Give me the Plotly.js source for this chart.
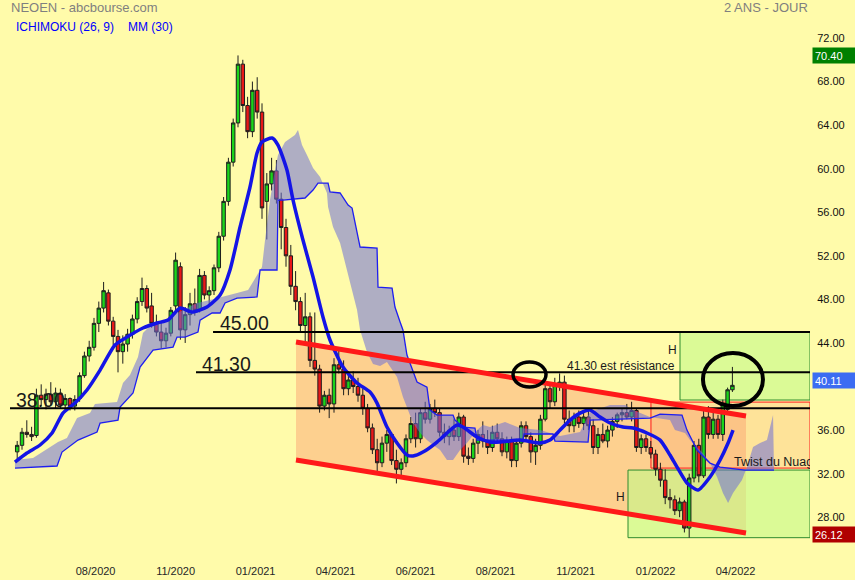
<!DOCTYPE html>
<html>
<head>
<meta charset="utf-8">
<script src="https://cdn.plot.ly/plotly-3.0.1.min.js"></script>
<style>
html,body{margin:0;padding:0;background:#FFFBAA;}
#chart{width:855px;height:580px;}
</style>
</head>
<body>
<div id="chart"></div>
<script>
// ---- tick labels (trading-day index of each tick) ----
const tickDays = [51, 101, 151, 201, 251, 301, 351, 401, 451];
const tickLabels = ['08/2020','11/2020','01/2021','04/2021','06/2021','08/2021','11/2021','01/2022','04/2022'];
const priceTicks = [28,32,36,44,48,52,56,60,64,68,72];

// ---- candles (one candle = 3 trading days) ----
const candleOpen = [
34.0,34.6,35.8,35.6,35.5,39.2,38.8,39.3,38.6,39.4,
38.3,38.9,38.2,38.9,41.0,42.8,43.6,45.8,47.2,48.6,
46.0,44.6,43.2,43.9,44.8,46.2,47.8,49.0,47.4,45.8,
45.0,44.2,44.9,47.4,51.0,45.2,46.6,47.6,47.0,50.2,
48.4,48.8,50.9,53.8,57.0,60.6,64.2,69.6,65.8,63.4,
67.2,65.2,57.0,58.6,59.8,57.2,54.6,52.0,49.2,47.8,
45.6,46.4,42.4,41.6,38.2,39.2,38.4,42.0,41.6,39.8,
40.6,40.0,39.2,38.0,36.2,34.2,33.0,34.8,35.6,33.2,
32.4,33.0,35.2,36.6,35.2,37.6,37.0,38.0,37.6,35.8,
35.4,36.0,35.4,37.2,33.6,33.4,34.8,35.6,35.0,34.4,
35.8,35.2,34.0,35.0,33.2,34.8,36.4,35.4,34.0,34.6,
37.0,39.8,38.6,40.2,40.4,37.0,36.4,37.2,36.6,37.2,
36.4,34.4,35.6,35.0,36.0,36.8,37.4,37.6,37.2,37.8,
34.4,35.2,34.4,33.8,32.4,31.4,29.8,29.6,28.6,29.4,
27.0,31.6,34.6,31.8,37.2,35.6,37.0,35.6,37.9,39.7];
const candleHigh = [
35.0,36.2,36.9,36.3,39.8,40.2,39.8,40.4,39.9,39.8,
39.3,39.0,39.2,41.3,43.2,44.2,46.3,47.8,49.6,48.9,
46.4,45.2,44.7,45.3,46.6,48.2,50.0,49.3,48.6,46.6,
46.0,45.4,47.3,52.3,51.4,47.3,48.6,49.0,50.8,50.6,
49.2,51.2,54.2,57.4,61.0,64.6,70.4,70.0,66.6,68.0,
68.4,66.0,59.6,61.0,60.8,57.8,55.4,53.0,50.6,48.2,
48.6,46.8,46.8,42.0,39.6,39.8,42.6,43.4,42.4,41.4,
41.4,40.8,39.8,38.4,36.6,35.2,35.4,36.0,35.8,34.2,
33.4,35.6,37.2,37.6,38.0,38.6,38.4,38.8,38.0,36.6,
36.4,37.0,37.6,37.4,34.4,35.2,36.0,36.8,36.0,36.4,
36.6,35.8,35.4,35.4,35.2,36.8,36.8,35.8,35.2,37.4,
40.2,40.4,40.8,41.2,41.0,37.8,37.6,37.8,37.6,37.8,
37.0,36.2,36.6,36.4,37.2,37.6,38.0,38.4,38.6,38.0,
35.6,35.6,35.0,34.2,33.0,32.4,30.6,30.0,29.8,29.6,
32.0,35.0,35.2,37.8,38.2,37.6,37.4,38.8,39.9,41.8];
const candleLow = [
33.2,34.2,35.3,35.0,35.3,38.2,37.9,38.3,38.0,38.0,
37.7,37.8,37.8,38.6,40.8,42.3,43.3,45.0,46.8,45.6,
43.8,41.3,42.1,43.2,44.4,45.8,47.4,46.8,45.4,44.6,
43.5,43.6,44.6,47.0,44.3,44.0,45.6,46.5,46.8,48.0,
47.6,48.4,50.5,53.4,56.6,60.2,63.8,65.2,62.8,62.9,
64.6,55.4,53.5,58.0,56.8,52.6,51.0,48.4,47.0,45.0,
44.0,41.8,41.0,37.6,37.8,37.1,37.6,41.2,39.2,39.2,
39.4,38.6,37.4,35.8,33.8,31.9,32.6,34.0,32.8,31.1,
31.6,32.6,34.8,34.4,34.8,36.6,36.6,37.2,35.4,34.8,
34.6,35.0,35.0,33.0,32.8,33.0,33.8,34.4,33.8,34.0,
34.8,33.6,33.4,32.6,32.6,34.4,35.0,33.0,32.8,34.2,
36.8,38.0,38.2,39.6,36.6,35.8,35.8,36.2,36.0,36.0,
33.8,33.8,34.8,34.4,35.4,36.2,36.8,37.0,36.8,34.0,
33.8,34.0,33.4,31.8,30.8,29.2,28.8,28.2,28.0,26.6,
26.12,31.2,31.2,31.6,35.2,35.2,35.2,35.0,37.6,39.5];
const candleClose = [
34.6,35.8,35.6,35.4,39.2,38.8,39.3,38.6,39.4,38.3,
38.9,38.2,38.8,41.0,42.8,43.6,45.8,47.2,48.8,46.0,
44.6,43.2,43.9,44.8,46.2,47.8,49.0,47.2,45.8,45.0,
44.2,44.9,47.0,51.6,45.2,46.6,47.6,47.0,50.2,48.4,
48.8,50.9,53.8,57.0,60.6,64.2,69.6,65.8,63.4,67.2,
65.2,56.4,58.6,59.8,57.2,54.6,52.0,49.2,47.8,45.6,
46.4,42.4,41.6,38.2,39.2,38.4,42.0,41.6,39.8,40.6,
40.0,39.2,38.0,36.2,34.2,33.0,34.8,35.6,33.2,32.4,
33.0,35.2,36.6,35.2,37.6,37.0,38.0,37.6,35.8,35.4,
36.0,35.4,37.2,33.6,33.4,34.8,35.6,35.0,34.4,35.8,
35.2,34.0,35.0,33.2,34.8,36.4,35.4,34.0,34.6,37.0,
39.8,38.6,40.2,40.4,37.0,36.4,37.2,36.6,37.2,36.4,
34.4,35.6,35.0,36.0,36.8,37.4,37.6,37.2,37.8,34.4,
35.2,34.4,33.8,32.4,31.4,29.8,29.6,28.6,29.4,27.0,
31.6,34.6,31.8,37.2,35.6,37.0,35.6,38.4,39.7,40.11];
const candleDay = candleOpen.map((_, k) => 2 + 3 * k);

// ---- MM(30) ----
const maDay = [0.6,8.1,16.3,23.8,30.6,38.1,45.6,53.8,63.1,70.6,80.6,89.4,96.3,103.8,111.3,120.6,128.8,135,141.3,147.5,151.9,155,161.3,165,170.6,174.4,180.6,186.9,193.1,197.5,205.6,214.4,222.5,226.9,233.1,239.4,245.6,249.4,255.6,264.4,270.6,276.9,280.6,289.4,297.5,303.8,316.3,328.8,335,341.3,347.5,353.8,360,366.3,372.5,380.6,386.9,395.6,403.8,410,414.4,420.6,427.5,435,441.3,446.3,449.4];
const maValue = [33.06,33.89,34.63,35.73,37.56,38.48,39.68,41.51,43.81,44.54,45.37,45.83,46.10,47.21,46.84,47.30,48.40,50.70,54.65,58.32,61.44,62.45,62.82,62.17,59.88,57.12,53.45,50.05,46.38,44.27,41.79,40.32,39.49,38.48,36.28,34.81,33.71,33.62,33.98,34.90,35.73,36.46,36.28,35.36,34.90,34.90,35.08,34.81,35.08,36.00,36.92,37.56,37.84,37.20,36.65,36.28,36.19,35.73,35.08,33.71,32.60,31.14,30.49,31.69,33.25,34.81,36.00];

// ---- Ichimoku cloud: Senkou span A / span B (already shifted 26 days) ----
const spanADay = [0.6,11.9,27.5,33.1,39.4,47.5,50.6,64.4,68.1,72.5,77.5,80.6,86.9,94.4,101.9,114.4,122.5,130.6,139.4,146.3,151.9,155,156.9,160,163.1,165,169.4,175.6,177.5,180,183.1,186.9,191.3,195.6,196.3,199.4,203.8,208.1,210,214.4,216.3,220.6,224.4,228.8,233.1,239.4,243.1,246.3,249.4,253.8,258.1,261.9,266.3,270.6,274.4,278.8,283.1,289.4,293.1,297.5,306.9,316.3,328.8,341.3,353.8,360,372.5,381.9,386.9,397.5,410,413.1,419.4,422.5,430.6,435,439.4,443.1,446.3,449.4,455,458.1,461.9,466.3,470.6,474.4];
const spanAValue = [33.25,33.43,34.90,35.27,37.10,37.56,38.39,38.57,40.32,41.05,42.71,44.91,45.83,46.10,46.75,47.67,47.94,48.22,48.58,48.86,50.24,50.97,53.45,57.12,59.88,61.26,62.45,63.09,63.55,62.17,61.26,60.06,59.24,57.77,56.48,54.65,53.18,50.70,49.78,47.02,45.19,43.17,42.06,41.88,42.25,40.87,39.03,37.84,36.65,35.73,35.08,34.63,34.17,33.25,33.25,34.17,34.81,36.00,36.46,36.28,36.74,36.19,36.00,35.45,35.82,37.66,38.30,38.30,37.84,37.20,36.92,36.00,35.73,35.08,33.89,32.97,31.69,30.22,29.30,30.22,31.41,32.60,34.44,34.81,35.08,37.38];
const spanBDay = [0.6,26.9,30,40,51.9,53.8,65,66.3,74.4,78.8,86.9,99.4,101.9,106.9,115,116.3,123.8,128.8,131.9,139.4,151.9,153.8,164.4,165,168.1,181.9,186.9,190,196.3,197.5,203.8,208.8,211.3,215,216.3,226.9,227.5,236.3,238.1,241.3,243.1,245.6,248.8,251.9,258.1,260,264.4,274.4,275.6,280.6,288.1,289.4,318.1,318.8,336.9,338.1,358.8,360,397.5,403.8,417.5,420.6,426.9,435,441.3,456.9,475];
const spanBValue = [32.51,32.70,33.98,35.08,35.82,36.65,36.92,38.11,39.40,41.79,43.35,43.62,44.54,44.54,45.00,46.10,46.75,46.75,47.67,48.12,48.22,50.70,50.70,57.12,57.12,57.31,58.04,58.68,58.68,57.86,57.77,56.66,56.39,53.91,52.81,52.72,49.13,49.04,47.30,45.92,45.19,42.89,41.70,40.41,39.95,37.84,37.38,37.38,36.92,36.28,36.19,35.08,35.08,35.64,35.64,34.99,34.90,36.92,37.10,37.47,37.38,36.00,34.17,32.97,32.60,32.33,32.33];

// ---- drawn levels ----
const levelValues = [45.00, 41.30, 38.00];
const levelLabels = ['45.00', '41.30', '38.00'];
const lastHigh = 70.40, lastClose = 40.11, lastLow = 26.12;

// ---------------------------------------------------------------
const BG = '#FFFBAA';
const FONT = 'Arial, "Liberation Sans", sans-serif';
const XMAX = 497.5;

const traces = [
  {
    type: 'candlestick', x: candleDay, open: candleOpen, high: candleHigh, low: candleLow, close: candleClose,
    increasing: {line: {color: '#1d1d1d', width: 1}, fillcolor: '#1BD41B'},
    decreasing: {line: {color: '#1d1d1d', width: 1}, fillcolor: '#E81818'},
    whiskerwidth: 0, hoverinfo: 'skip', showlegend: false
  },
  {
    type: 'scatter', mode: 'lines', x: spanADay, y: spanAValue,
    line: {width: 0, color: 'rgba(0,0,0,0)'}, hoverinfo: 'skip', showlegend: false
  },
  {
    type: 'scatter', mode: 'lines', x: spanBDay, y: spanBValue, fill: 'tonexty',
    fillcolor: 'rgba(110,112,215,0.55)', line: {width: 1.3, color: '#1E1EF0'},
    hoverinfo: 'skip', showlegend: false
  },
  {
    type: 'scatter', mode: 'lines', x: maDay, y: maValue,
    line: {width: 3.5, color: '#1414E6', shape: 'spline', smoothing: 0.6},
    hoverinfo: 'skip', showlegend: false
  },
  {
    type: 'scatter', mode: 'text', x: [450], y: [32.95], text: ['Twist du Nuage'],
    textposition: 'middle right', textfont: {family: FONT, size: 12.5, color: '#1a1a1a'},
    cliponaxis: true, hoverinfo: 'skip', showlegend: false
  }
];

const shapes = [
  // orange channel
  {type: 'path', layer: 'below', path: 'M 176.25,44.08 L 457.5,37.29 L 457.5,26.55 L 176.25,33.25 Z',
   fillcolor: 'rgb(253,208,143)', line: {width: 0}},
  // red rectangle
  {type: 'rect', layer: 'below', x0: 398.1, x1: XMAX, y0: 32.51, y1: 38.57,
   fillcolor: 'rgba(250,165,110,0.28)', line: {color: '#FF1A1A', width: 1}},
  // green rectangles
  {type: 'rect', layer: 'below', x0: 416.25, x1: XMAX, y0: 38.76, y1: 45.0,
   fillcolor: 'rgba(197,249,137,0.62)', line: {color: '#2E8B2E', width: 1}},
  {type: 'rect', layer: 'below', x0: 383.75, x1: XMAX, y0: 26.12, y1: 32.33,
   fillcolor: 'rgba(197,249,137,0.62)', line: {color: '#2E8B2E', width: 1}},
  // horizontal levels
  {type: 'line', layer: 'above', x0: 124.4, x1: XMAX, y0: levelValues[0], y1: levelValues[0], line: {color: '#000', width: 2}},
  {type: 'line', layer: 'above', x0: 113.75, x1: XMAX, y0: levelValues[1], y1: levelValues[1], line: {color: '#000', width: 2}},
  {type: 'line', layer: 'above', x0: -2.5, x1: XMAX, y0: levelValues[2], y1: levelValues[2], line: {color: '#000', width: 2}},
  // channel lines
  {type: 'line', layer: 'above', x0: 176.25, y0: 44.08, x1: 457.5, y1: 37.29, line: {color: 'rgb(255,25,25)', width: 5}},
  {type: 'line', layer: 'above', x0: 176.25, y0: 33.25, x1: 457.5, y1: 26.55, line: {color: 'rgb(255,25,25)', width: 5}},
  // ellipses
  {type: 'circle', layer: 'above', x0: 311.9, x1: 332.5, y0: 39.95, y1: 42.25, line: {color: '#000', width: 3.5}},
  {type: 'circle', layer: 'above', x0: 430.6, x1: 468.1, y0: 38.21, y1: 43.07, line: {color: '#000', width: 4}}
];

function px(x){ return x / 810; }
function py(y){ return 1 - y / 555; }

const annotations = [
  {xref: 'paper', yref: 'paper', x: px(9), y: py(8), xanchor: 'left', yanchor: 'middle', showarrow: false,
   text: 'NEOEN - abcbourse.com', font: {family: FONT, size: 13, color: '#7f7f7f'}},
  {xref: 'paper', yref: 'paper', x: px(14), y: py(27), xanchor: 'left', yanchor: 'middle', showarrow: false,
   text: 'ICHIMOKU (26, 9)', font: {family: FONT, size: 12, color: '#0000FF'}},
  {xref: 'paper', yref: 'paper', x: px(126), y: py(27), xanchor: 'left', yanchor: 'middle', showarrow: false,
   text: 'MM (30)', font: {family: FONT, size: 12, color: '#0000FF'}},
  {xref: 'paper', yref: 'paper', x: px(810), y: py(8), xanchor: 'right', yanchor: 'middle', showarrow: false,
   text: '2 ANS - JOUR', font: {family: FONT, size: 13, color: '#7f7f7f'}},
  // level labels
  {x: 127.5, y: 45.83, xanchor: 'left', yanchor: 'middle', showarrow: false, text: levelLabels[0],
   font: {family: FONT, size: 19.5, color: '#1a1a1a'}},
  {x: 116.3, y: 42.06, xanchor: 'left', yanchor: 'middle', showarrow: false, text: levelLabels[1],
   font: {family: FONT, size: 19.5, color: '#1a1a1a'}},
  {x: 0, y: 38.76, xanchor: 'left', yanchor: 'middle', showarrow: false, text: levelLabels[2],
   font: {family: FONT, size: 19.5, color: '#1a1a1a'}},
  {x: 345, y: 41.93, xanchor: 'left', yanchor: 'middle', showarrow: false, text: '41.30 est résistance',
   borderpad: 0, font: {family: FONT, size: 12, color: '#1a1a1a'}},
  {x: 411.25, y: 43.32, xanchor: 'center', yanchor: 'middle', showarrow: false, text: 'H',
   borderpad: 0, font: {family: FONT, size: 12, color: '#1a1a1a'}},
  {x: 378.75, y: 29.85, xanchor: 'center', yanchor: 'middle', showarrow: false, text: 'H',
   font: {family: FONT, size: 12, color: '#1a1a1a'}},
  // price boxes on the right
  {xref: 'paper', x: px(812), y: lastHigh, xanchor: 'left', yanchor: 'middle', showarrow: false,
   text: lastHigh.toFixed(2), bgcolor: '#008000', width: 39, height: 11, borderpad: 2, align: 'left',
   font: {family: FONT, size: 11, color: '#ffffff'}},
  {xref: 'paper', x: px(812), y: lastClose + 0.45, xanchor: 'left', yanchor: 'middle', showarrow: false,
   text: lastClose.toFixed(2), bgcolor: '#3C6CF2', width: 39, height: 11, borderpad: 2, align: 'left',
   font: {family: FONT, size: 11, color: '#ffffff'}},
  {xref: 'paper', x: px(812), y: lastLow + 0.3, xanchor: 'left', yanchor: 'middle', showarrow: false,
   text: lastLow.toFixed(2), bgcolor: '#B00000', width: 39, height: 11, borderpad: 2, align: 'left',
   font: {family: FONT, size: 11, color: '#ffffff'}}
];

const layout = {
  width: 855, height: 580,
  margin: {l: 0, r: 45, t: 0, b: 25, pad: 0},
  paper_bgcolor: BG, plot_bgcolor: BG,
  showlegend: false, hovermode: false, dragmode: false,
  boxgap: 0.15, boxgroupgap: 0.15,
  xaxis: {
    range: [-8.75, XMAX], showgrid: false, zeroline: false, showline: false,
    tickmode: 'array', tickvals: tickDays, ticktext: tickLabels,
    ticks: 'outside', ticklen: 6, tickcolor: 'rgba(0,0,0,0)',
    tickfont: {family: FONT, size: 11, color: '#262626'},
    rangeslider: {visible: false}, fixedrange: true
  },
  yaxis: {
    side: 'right', range: [24.53, 75.49], showgrid: false, zeroline: false, showline: false,
    tickmode: 'array', tickvals: priceTicks, ticktext: priceTicks.map(v => v.toFixed(2)),
    ticks: 'outside', ticklen: 4, tickcolor: 'rgba(0,0,0,0)',
    tickfont: {family: FONT, size: 11, color: '#111111'}, fixedrange: true
  },
  shapes: shapes,
  annotations: annotations
};

Plotly.newPlot('chart', traces, layout, {displayModeBar: false, staticPlot: true});
</script>
</body>
</html>
